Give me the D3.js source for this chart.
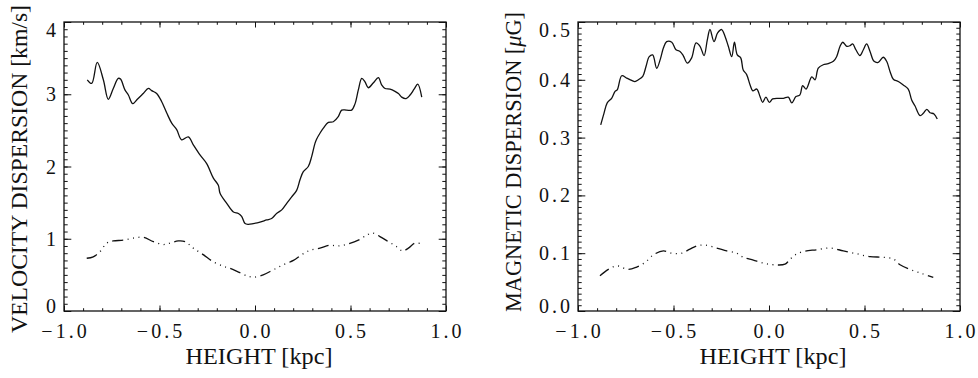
<!DOCTYPE html>
<html><head><meta charset="utf-8">
<script src="https://cdn.jsdelivr.net/npm/d3@7"></script>
<style>body{margin:0;background:#fff}svg{display:block}</style>
</head><body><svg id="c" width="978" height="378"></svg>
<script>
// ---- data ----
const xTickLabels=["\u22121.0","\u22120.5","0.0","0.5","1.0"];
const xMajor=[-1,-0.5,0,0.5,1];
const velTickLabels=["0","1","2","3","4"];
const velMajor=[0,1,2,3,4];
const magTickLabels=["0.0","0.1","0.2","0.3","0.4","0.5"];
const magMajor=[0,0.1,0.2,0.3,0.4,0.5];

// left panel, solid: velocity dispersion
const hVel=[-0.878,-0.855,-0.826,-0.794,-0.768,-0.742,-0.716,-0.704,-0.681,-0.663,-0.640,-0.616,-0.585,-0.558,-0.541,-0.515,-0.489,-0.462,-0.436,-0.410,-0.384,-0.349,-0.323,-0.288,-0.253,-0.218,-0.192,-0.183,-0.148,-0.113,-0.087,-0.070,-0.052,-0.035,-0.009,0.026,0.061,0.087,0.113,0.140,0.166,0.192,0.218,0.236,0.253,0.279,0.297,0.314,0.323,0.340,0.358,0.384,0.410,0.436,0.454,0.480,0.506,0.524,0.541,0.559,0.576,0.593,0.620,0.646,0.663,0.681,0.707,0.733,0.751,0.768,0.791,0.812,0.833,0.852,0.873];
const vVel=[3.20,3.15,3.44,3.20,2.93,3.08,3.22,3.21,3.06,2.99,2.87,2.93,3.01,3.08,3.05,3.01,2.90,2.74,2.60,2.51,2.37,2.41,2.30,2.16,2.04,1.84,1.74,1.63,1.49,1.37,1.35,1.31,1.21,1.20,1.21,1.23,1.26,1.28,1.35,1.40,1.49,1.58,1.67,1.82,1.93,2.00,2.14,2.32,2.38,2.46,2.53,2.61,2.62,2.69,2.78,2.78,2.78,2.87,3.06,3.22,3.17,3.09,3.16,3.23,3.13,3.08,3.07,3.04,3.01,2.96,2.94,2.99,3.07,3.14,2.96];
// left panel, dash-dot-dot-dot
const hVel2=[-0.881,-0.847,-0.812,-0.776,-0.742,-0.690,-0.637,-0.585,-0.532,-0.480,-0.445,-0.402,-0.366,-0.323,-0.271,-0.218,-0.166,-0.131,-0.079,-0.035,0.0,0.043,0.096,0.148,0.201,0.245,0.288,0.340,0.393,0.436,0.488,0.541,0.585,0.616,0.654,0.698,0.742,0.773,0.803,0.838,0.873];
const vVel2=[0.73,0.75,0.82,0.94,0.97,0.98,1.01,1.02,0.96,0.92,0.94,0.97,0.96,0.87,0.78,0.68,0.62,0.59,0.53,0.48,0.47,0.50,0.57,0.64,0.70,0.78,0.84,0.87,0.91,0.90,0.93,0.98,1.05,1.08,1.03,0.96,0.89,0.83,0.87,0.94,0.93];

// right panel, solid: magnetic dispersion
const hMag=[-0.881,-0.864,-0.847,-0.824,-0.806,-0.794,-0.771,-0.745,-0.719,-0.702,-0.684,-0.661,-0.644,-0.627,-0.609,-0.588,-0.567,-0.553,-0.536,-0.509,-0.487,-0.466,-0.449,-0.428,-0.405,-0.382,-0.361,-0.340,-0.323,-0.309,-0.288,-0.269,-0.248,-0.230,-0.213,-0.195,-0.181,-0.166,-0.148,-0.135,-0.117,-0.099,-0.085,-0.064,-0.047,-0.033,-0.016,0.002,0.019,0.049,0.075,0.101,0.119,0.141,0.162,0.176,0.194,0.224,0.241,0.258,0.284,0.310,0.337,0.354,0.372,0.386,0.407,0.424,0.438,0.455,0.476,0.494,0.511,0.529,0.550,0.572,0.598,0.616,0.634,0.651,0.677,0.703,0.729,0.747,0.764,0.791,0.808,0.826,0.843,0.864,0.881];
const bMag=[0.322,0.342,0.360,0.368,0.380,0.383,0.407,0.403,0.399,0.397,0.400,0.406,0.423,0.440,0.443,0.420,0.438,0.455,0.466,0.465,0.452,0.449,0.442,0.429,0.438,0.464,0.458,0.442,0.469,0.487,0.466,0.481,0.487,0.475,0.458,0.440,0.465,0.443,0.438,0.417,0.409,0.391,0.381,0.384,0.371,0.361,0.370,0.361,0.367,0.368,0.368,0.370,0.360,0.371,0.374,0.390,0.384,0.405,0.400,0.420,0.426,0.428,0.432,0.440,0.458,0.465,0.458,0.459,0.462,0.452,0.442,0.452,0.462,0.449,0.432,0.430,0.439,0.432,0.414,0.401,0.397,0.391,0.384,0.365,0.355,0.338,0.342,0.349,0.343,0.341,0.332];
// right panel, dash-dot-dot-dot
const hMag2=[-0.885,-0.841,-0.797,-0.737,-0.693,-0.649,-0.606,-0.553,-0.509,-0.457,-0.414,-0.375,-0.335,-0.274,-0.221,-0.169,-0.135,-0.082,-0.030,0.023,0.084,0.106,0.136,0.180,0.250,0.319,0.389,0.459,0.529,0.598,0.651,0.686,0.738,0.799,0.860];
const bMag2=[0.061,0.072,0.078,0.072,0.076,0.084,0.097,0.104,0.100,0.100,0.107,0.113,0.114,0.109,0.104,0.100,0.093,0.088,0.083,0.080,0.081,0.088,0.097,0.103,0.106,0.109,0.104,0.099,0.094,0.093,0.090,0.080,0.072,0.065,0.058];

// ---- drawing ----
const svg=d3.select("#c");
const FONT="'Liberation Serif','Times New Roman',serif";
const INK="#111";

function panel(cfg){
  const x=d3.scaleLinear().domain([-1,1]).range([cfg.left,cfg.right]);
  const y=d3.scaleLinear().domain(cfg.yDomain).range([cfg.bottom,cfg.top]);
  const g=svg.append("g");
  const xMinor=d3.range(-10,11).map(d=>d/10);
  const yMinor=d3.range(0,Math.round((cfg.yDomain[1]-cfg.yDomain[0])/cfg.yMinorStep)+1).map(i=>cfg.yDomain[0]+i*cfg.yMinorStep);
  const xl=5.5, xs=2.8, yl=7.3, ys=3.7;
  const addAxis=(axis,tr)=>{
    const a=g.append("g").attr("transform",tr).call(axis);
    a.select(".domain").remove();
    a.selectAll("line").attr("stroke",INK).attr("stroke-width",1);
    a.selectAll("text").remove();
  };
  addAxis(d3.axisBottom(x).tickValues(xMinor).tickSize(-xs),`translate(0,${cfg.bottom})`);
  addAxis(d3.axisBottom(x).tickValues(xMajor).tickSize(-xl),`translate(0,${cfg.bottom})`);
  addAxis(d3.axisTop(x).tickValues(xMinor).tickSize(-xs),`translate(0,${cfg.top})`);
  addAxis(d3.axisTop(x).tickValues(xMajor).tickSize(-xl),`translate(0,${cfg.top})`);
  addAxis(d3.axisLeft(y).tickValues(yMinor).tickSize(-ys),`translate(${cfg.left},0)`);
  addAxis(d3.axisLeft(y).tickValues(cfg.yMajor).tickSize(-yl),`translate(${cfg.left},0)`);
  addAxis(d3.axisRight(y).tickValues(yMinor).tickSize(-ys),`translate(${cfg.right},0)`);
  addAxis(d3.axisRight(y).tickValues(cfg.yMajor).tickSize(-yl),`translate(${cfg.right},0)`);
  g.append("rect").attr("x",cfg.left).attr("y",cfg.top)
    .attr("width",cfg.right-cfg.left).attr("height",cfg.bottom-cfg.top)
    .attr("fill","none").attr("stroke",INK).attr("stroke-width",1.3);

  const LS=3;
  // x tick labels
  g.selectAll(".xl").data(xMajor).join("text")
    .attr("x",d=>x(d)+LS/2).attr("y",cfg.bottom+27)
    .attr("text-anchor","middle").attr("font-family",FONT).attr("font-size",20)
    .attr("letter-spacing",LS).attr("fill",INK)
    .text((d,i)=>xTickLabels[i]);
  // y tick labels
  g.selectAll(".yl").data(cfg.yMajor).join("text")
    .attr("x",cfg.left-8+LS).attr("y",d=>Math.min(Math.max(y(d),cfg.top+8),cfg.bottom-5))
    .attr("dy","0.35em")
    .attr("text-anchor","end").attr("font-family",FONT).attr("font-size",20)
    .attr("letter-spacing",LS).attr("fill",INK)
    .text((d,i)=>cfg.yLabels[i]);
  // x title
  g.append("text").attr("x",(cfg.left+cfg.right)/2+4).attr("y",cfg.bottom+53)
    .attr("text-anchor","middle").attr("font-family",FONT).attr("font-size",23)
    .attr("textLength",147).attr("lengthAdjust","spacingAndGlyphs").attr("fill",INK)
    .text("HEIGHT [kpc]");
  // y title
  const yt=g.append("text")
    .attr("transform",`translate(${cfg.titleX},${cfg.titleY}) rotate(-90)`)
    .attr("text-anchor","middle").attr("font-family",FONT).attr("font-size",23)
    .attr("textLength",cfg.titleLen).attr("lengthAdjust","spacingAndGlyphs").attr("fill",INK);
  cfg.title.forEach(p=>yt.append("tspan").attr("font-style",p.it?"italic":null).text(p.t));

  const line=d3.line().x(d=>x(d[0])).y(d=>y(d[1])).curve(d3.curveCatmullRom.alpha(0.5));
  cfg.series.forEach(s=>{
    g.append("path").datum(d3.zip(s.h,s.v)).attr("d",line)
      .attr("fill","none").attr("stroke",INK).attr("stroke-width",1.3)
      .attr("stroke-dasharray",s.dash||null).attr("stroke-linejoin","round");
  });
}

const DASH="11,4.5,1,4.5,1,4.5,1,4.5";
panel({left:64,right:446,top:22,bottom:311,yDomain:[0,4],yMajor:velMajor,yMinorStep:0.1,
  yLabels:velTickLabels,titleX:27,titleY:169,titleLen:328,
  title:[{t:"VELOCITY DISPERSION [km/s]"}],
  series:[{h:hVel,v:vVel},{h:hVel2,v:vVel2,dash:DASH}]});
panel({left:578,right:960,top:22,bottom:311,yDomain:[0,0.5],yMajor:magMajor,yMinorStep:0.01,
  yLabels:magTickLabels,titleX:521,titleY:162,titleLen:300,
  title:[{t:"MAGNETIC DISPERSION ["},{t:"\u03bc",it:true},{t:"G]"}],
  series:[{h:hMag,v:bMag},{h:hMag2,v:bMag2,dash:DASH}]});
</script></body></html>
